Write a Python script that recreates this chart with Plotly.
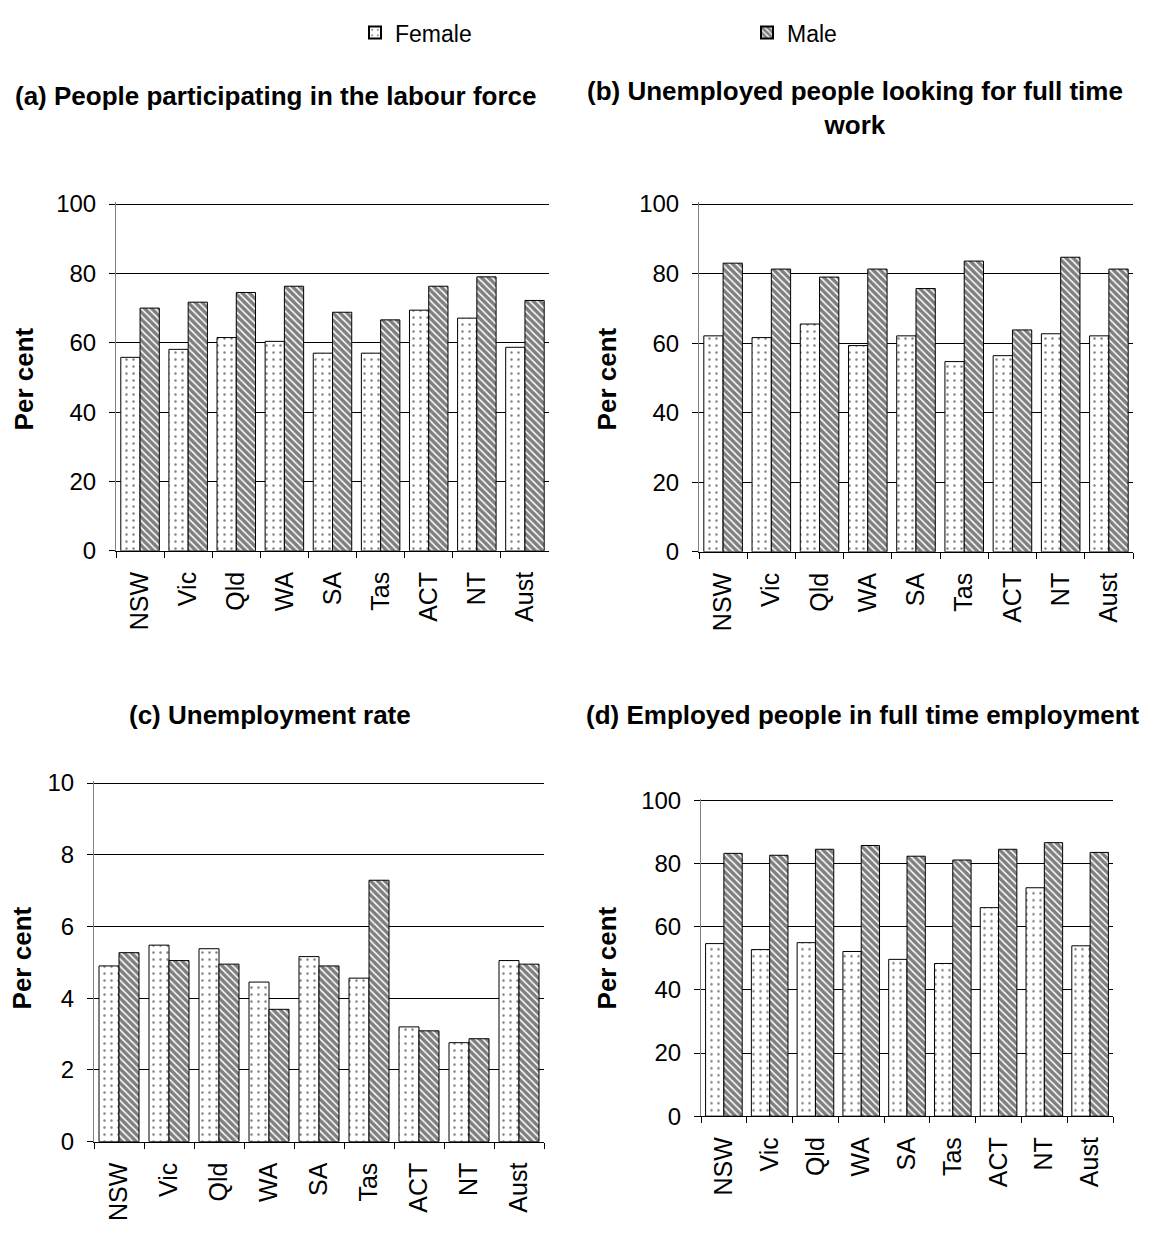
import plotly.graph_objects as go

# Labour force indicators by state, female vs male
states = ["NSW", "Vic", "Qld", "WA", "SA", "Tas", "ACT", "NT", "Aust"]

participation_female = [55.8, 58.1, 61.5, 60.4, 57.0, 57.0, 69.4, 67.1, 58.7]
participation_male = [70.0, 71.7, 74.5, 76.3, 68.8, 66.6, 76.3, 79.0, 72.2]

looking_ft_female = [62.1, 61.6, 65.5, 59.3, 62.1, 54.7, 56.4, 62.7, 62.1]
looking_ft_male = [83.0, 81.3, 79.0, 81.3, 75.7, 83.6, 63.8, 84.7, 81.3]

unemp_rate_female = [4.9, 5.48, 5.38, 4.45, 5.16, 4.56, 3.2, 2.76, 5.05]
unemp_rate_male = [5.27, 5.05, 4.95, 3.69, 4.9, 7.29, 3.09, 2.87, 4.95]

employed_ft_female = [54.7, 52.8, 55.0, 52.2, 49.7, 48.4, 66.1, 72.4, 54.0]
employed_ft_male = [83.3, 82.7, 84.6, 85.8, 82.4, 81.2, 84.6, 86.7, 83.6]

panel_titles = [
    "(a) People participating in the labour force",
    "(b) Unemployed people looking for full time<br>work",
    "(c) Unemployment rate",
    "(d) Employed people in full time employment",
]

W, H = 1150, 1234
FONT = "Liberation Sans, Arial, sans-serif"
TOP_PAD = 2  # px of headroom so the gridline at the axis maximum is drawn


def px_x(x):
    return x / W


def px_y(y):
    return 1 - y / H


female_style = dict(
    color="white",
    line=dict(color="black", width=1),
    pattern=dict(shape=".", fgcolor="black", bgcolor="white", size=7, solidity=0.1),
)
male_style = dict(
    color="white",
    line=dict(color="black", width=1),
    pattern=dict(shape="\\", fgcolor="black", bgcolor="white", size=5, solidity=0.7),
)

panels = [
    # (female, male, axis suffix, x range px, y range px, y max, dtick)
    (participation_female, participation_male, "", (116, 549), (196, 550), 100, 20),
    (looking_ft_female, looking_ft_male, "2", (699, 1133), (196, 551), 100, 20),
    (unemp_rate_female, unemp_rate_male, "3", (94, 544), (787, 1153), 10, 2),
    (employed_ft_female, employed_ft_male, "4", (701, 1113), (805, 1127), 100, 20),
]

fig = go.Figure()
layout_axes = {}
for i, (fem, mal, sfx, (x0, x1), (y0, y1), ymax, dt) in enumerate(panels):
    xa = "x" + sfx
    ya = "y" + sfx
    fig.add_trace(go.Bar(
        x=states, y=fem, name="Female", marker=female_style,
        xaxis=xa, yaxis=ya, legendgroup="f", showlegend=(i == 0),
    ))
    fig.add_trace(go.Bar(
        x=states, y=mal, name="Male", marker=male_style,
        xaxis=xa, yaxis=ya, legendgroup="m", showlegend=(i == 0),
    ))
    layout_axes["xaxis" + sfx] = dict(
        domain=[px_x(x0), px_x(x1)],
        anchor=ya,
        type="category",
        tickangle=-90,
        ticks="outside",
        tickson="boundaries",
        ticklen=6,
        tickcolor="black",
        ticklabelstandoff=10,
        showline=True,
        linecolor="black",
        linewidth=1,
        showgrid=False,
        tickfont=dict(family=FONT, size=25, color="black"),
        fixedrange=True,
    )
    ytop = ymax * (1 + TOP_PAD / (y1 - y0))
    layout_axes["yaxis" + sfx] = dict(
        domain=[px_y(y1), px_y(y0 - TOP_PAD)],
        anchor=xa,
        range=[0, ytop],
        tick0=0,
        dtick=dt,
        ticks="outside",
        ticklen=6,
        tickcolor="black",
        ticklabelstandoff=8,
        showline=True,
        linecolor="#808080",
        linewidth=1,
        showgrid=True,
        gridcolor="black",
        gridwidth=1,
        zeroline=False,
        tickfont=dict(family=FONT, size=24, color="black"),
        fixedrange=True,
    )

fig.update_layout(**layout_axes)

annotations = []
title_pos = [(276, 86), (855, 98), (270, 718), (863, 718)]
for text, (tx, ty) in zip(panel_titles, title_pos):
    annotations.append(dict(
        text="<b>" + text + "</b>", x=px_x(tx), y=px_y(ty),
        xref="paper", yref="paper", xanchor="center", yanchor="middle",
        showarrow=False, font=dict(family=FONT, size=26, color="black"),
    ))
for (ax, ay) in [(24, 375), (607, 375), (22, 966), (607, 966)]:
    annotations.append(dict(
        text="<b>Per cent</b>", x=px_x(ax), y=px_y(ay),
        xref="paper", yref="paper", xanchor="center", yanchor="middle",
        textangle=-90, showarrow=False,
        font=dict(family=FONT, size=26, color="black"),
    ))

fig.update_layout(
    width=W,
    height=H,
    margin=dict(l=0, r=0, t=0, b=0),
    paper_bgcolor="white",
    plot_bgcolor="white",
    barmode="group",
    bargap=0.2,
    bargroupgap=0,
    font=dict(family=FONT, color="black"),
    annotations=annotations,
    legend=dict(
        orientation="h",
        x=px_x(355), y=px_y(21),
        xanchor="left", yanchor="middle",
        entrywidth=347,
        font=dict(family=FONT, size=23, color="black"),
        itemsizing="constant",
        bgcolor="rgba(0,0,0,0)",
    ),
)

fig.write_html("out.html")
